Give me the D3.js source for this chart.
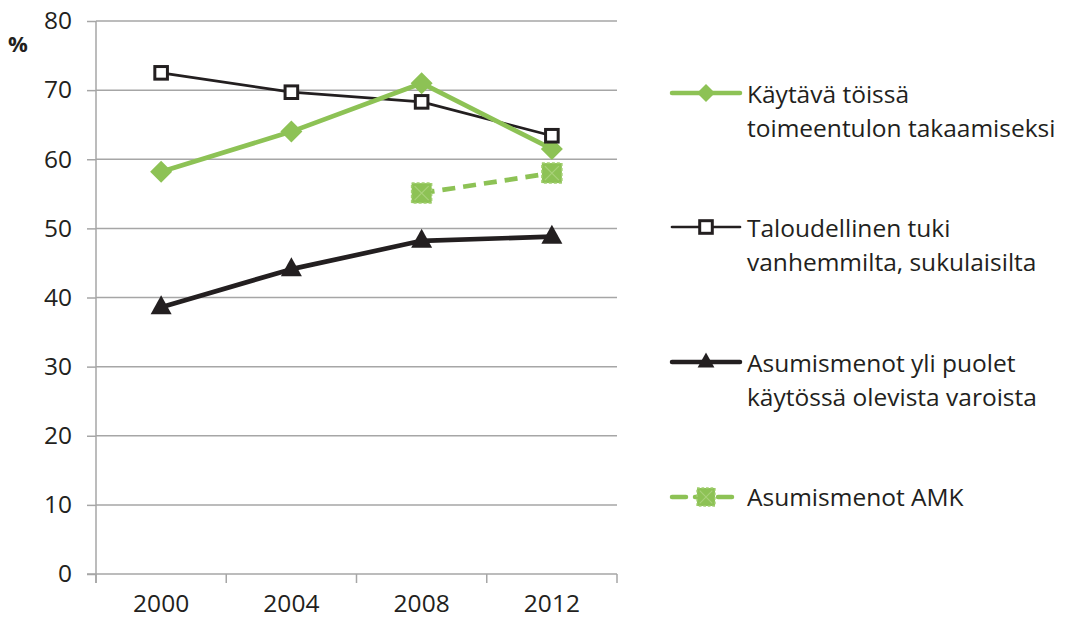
<!DOCTYPE html>
<html><head><meta charset="utf-8">
<script src="https://cdn.jsdelivr.net/npm/d3@7"></script>
<style>body{margin:0;background:#fff}svg{display:block}text{font-family:"Open Sans",sans-serif;fill:#231f20}</style>
</head><body><svg id="c" width="1065" height="619"></svg>
<script>
const years = ["2000","2004","2008","2012"];
const kaytava = [58.2, 64.0, 71.0, 61.5];
const taloudellinen = [72.5, 69.7, 68.3, 63.4];
const asumismenot = [38.6, 44.1, 48.2, 48.8];
const amk = [null, null, 55.1, 58.0];
const yTicks = [0,10,20,30,40,50,60,70,80];
const labels = [["Käytävä töissä","toimeentulon takaamiseksi"],["Taloudellinen tuki","vanhemmilta, sukulaisilta"],["Asumismenot yli puolet","käytössä olevista varoista"],["Asumismenot AMK"]];

const svg = d3.select("#c");
const green = "#8dc255", black = "#231f20", grid = "#a6a6a6";
const x = d3.scaleBand().domain(years).range([96, 617]);
const y = d3.scaleLinear().domain([0, 80]).range([574, 21]);
const FONT = "'Open Sans',sans-serif";

// gridlines
svg.append("g").selectAll("line").data(yTicks.filter(d=>d>0)).join("line")
  .attr("x1", 96).attr("x2", 617).attr("y1", d=>y(d)).attr("y2", d=>y(d))
  .attr("stroke", grid).attr("stroke-width", 1.5);

const yAx = svg.append("g").attr("transform","translate(96,0)")
  .call(d3.axisLeft(y).tickValues(yTicks).tickSize(9).tickPadding(15));
const xAx = svg.append("g").attr("transform","translate(0,574)")
  .call(d3.axisBottom(x).tickSize(0).tickPadding(21));
// category boundary ticks
const bounds = years.map(d=>x(d)).concat([x.range()[1]]);
svg.append("g").selectAll("line").data(bounds).join("line")
  .attr("x1",d=>d).attr("x2",d=>d)
  .attr("y1",574).attr("y2",583).attr("stroke",grid).attr("stroke-width",1.5);
[yAx,xAx].forEach(a=>{
  a.attr("font-size",24.5).attr("font-family",FONT);
  a.selectAll(".domain").attr("stroke",grid).attr("stroke-width",1.5);
  a.selectAll(".tick line").attr("stroke",grid).attr("stroke-width",1.5);
  a.selectAll("text").attr("font-size",24.5).attr("fill",black).style("font-family",FONT);
});
yAx.select(".domain").attr("d","M0,21V583");
xAx.select(".domain").attr("d","M87,0H617");

svg.append("text").attr("x",8).attr("y",52).attr("font-size",22).attr("font-weight","bold").text("%");

const cx = d => x(d) + x.bandwidth()/2;
function series(vals, stroke, width, dash) {
  const line = d3.line().defined(d=>d[1]!=null).x(d=>cx(d[0])).y(d=>y(d[1]));
  svg.append("path").datum(years.map((yr,i)=>[yr, vals[i]])).attr("d", line)
    .attr("fill","none").attr("stroke",stroke).attr("stroke-width",width)
    .attr("stroke-dasharray", dash||null).attr("stroke-linejoin","round");
}
const diamond = (g) => g.append("path").attr("d","M0,-11L11,0L0,11L-11,0Z").attr("fill",green);
const square = (g) => g.append("rect").attr("x",-6.3).attr("y",-6.3).attr("width",12.6).attr("height",12.6).attr("fill","#fff").attr("stroke",black).attr("stroke-width",3);
const tri = (g) => g.append("path").attr("d","M0,-12L10.5,7L-10.5,7Z").attr("fill",black);
const amkMark = (g) => { g.append("rect").attr("x",-10).attr("y",-10).attr("width",20).attr("height",20).attr("fill",green).attr("stroke","#a3cf72").attr("stroke-width",1.5).attr("stroke-dasharray","3,2");
  g.append("path").attr("d","M-7,-7L7,7M7,-7L-7,7").attr("stroke","#a9d17a").attr("stroke-width",1.2); };

function marks(vals, fn) {
  years.forEach((yr,i)=>{ if (vals[i]!=null) fn(svg.append("g").attr("transform",`translate(${cx(yr)},${y(vals[i])})`)); });
}
series(asumismenot, black, 4.7);
marks(asumismenot, tri);
series(amk, green, 4.7, "13,8");
marks(amk, amkMark);
series(taloudellinen, black, 2.7);
series(kaytava, green, 4.7);
marks(kaytava, diamond);
marks(taloudellinen, square);

// legend
const legY = [93, 227, 362, 497];
const styles = [
  {stroke:green, w:4.5, mark:diamond, sc:0.82},
  {stroke:black, w:2.7, mark:square, sc:1},
  {stroke:black, w:4.5, mark:tri, sc:0.8},
  {stroke:green, w:4.5, mark:amkMark, sc:0.9, dash:"14,9"}
];
labels.forEach((lab,i)=>{
  const s = styles[i];
  const g = svg.append("g").attr("transform",`translate(0,${legY[i]})`);
  g.append("line").attr("x1",672).attr("x2",740).attr("y1",0).attr("y2",0)
    .attr("stroke",s.stroke).attr("stroke-width",s.w).attr("stroke-dasharray",s.dash||null)
    .attr("stroke-linecap","round");
  s.mark(g.append("g").attr("transform",`translate(706,0) scale(${s.sc})`));
  const n = lab.length;
  lab.forEach((t,j)=> g.append("text").attr("x",747).attr("y", n===1 ? 9 : j*34+10).attr("font-size",24.5).text(t));
});
</script></body></html>
